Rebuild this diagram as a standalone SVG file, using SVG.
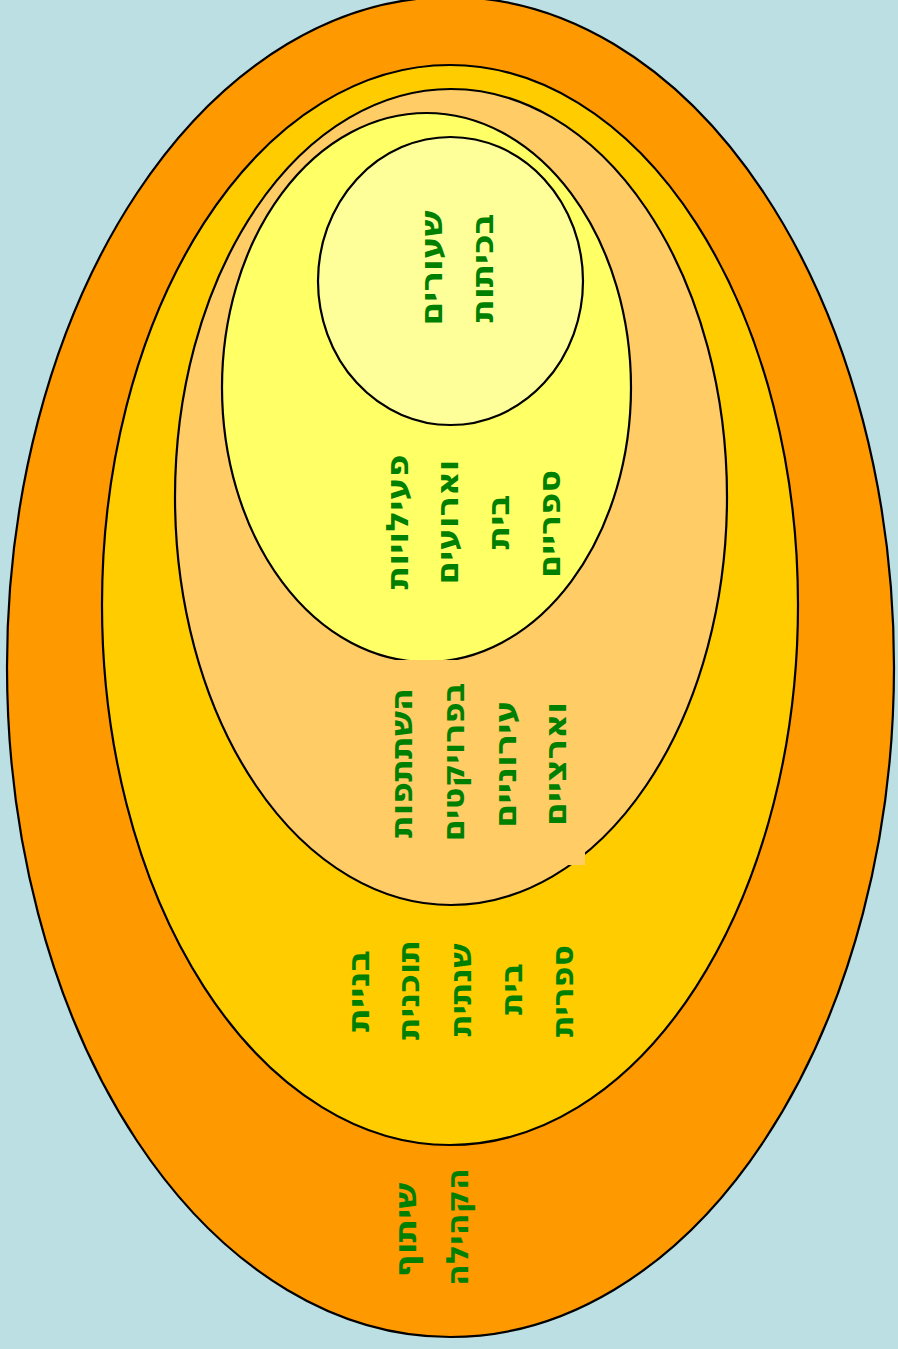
<svg xmlns="http://www.w3.org/2000/svg" width="898" height="1349" viewBox="0 0 898 1349">
<style>
.e{stroke:#000;stroke-width:2.2}
.t{font-family:"DejaVu Sans","Liberation Sans",sans-serif;font-weight:bold;font-size:31px;fill:#008000;text-anchor:middle;dominant-baseline:central}
</style>
<rect x="0" y="0" width="898" height="1349" fill="#BBDFE3"/>
<g id="ring-community">
<ellipse class="e" cx="450.5" cy="667" rx="443.5" ry="670" fill="#FF9900"/>
<text class="t" transform="translate(405,1230) rotate(-90)" textLength="95" lengthAdjust="spacingAndGlyphs">שיתוף</text>
<text class="t" transform="translate(457,1227) rotate(-90)" textLength="118" lengthAdjust="spacingAndGlyphs">הקהילה</text>
</g>
<g id="ring-annual">
<ellipse class="e" cx="450" cy="605" rx="348" ry="540" fill="#FFCC00"/>
<text class="t" transform="translate(358,991) rotate(-90)" textLength="82" lengthAdjust="spacingAndGlyphs">בניית</text>
<text class="t" transform="translate(408,990) rotate(-90)" textLength="100" lengthAdjust="spacingAndGlyphs">תוכנית</text>
<text class="t" transform="translate(460,990) rotate(-90)" textLength="93" lengthAdjust="spacingAndGlyphs">שנתית</text>
<text class="t" transform="translate(511,989) rotate(-90)" textLength="52" lengthAdjust="spacingAndGlyphs">בית</text>
<text class="t" transform="translate(562,991) rotate(-90)" textLength="92" lengthAdjust="spacingAndGlyphs">ספרית</text>
</g>
<g id="ring-projects">
<ellipse class="e" cx="451" cy="497" rx="276" ry="408" fill="#FFCC66"/>
</g>
<g id="ring-events">
<ellipse class="e" cx="426.5" cy="387.5" rx="204.5" ry="274.5" fill="#FFFF66"/>
<text class="t" transform="translate(397,522) rotate(-90)" textLength="135" lengthAdjust="spacingAndGlyphs">פעילויות</text>
<text class="t" transform="translate(447,522) rotate(-90)" textLength="125" lengthAdjust="spacingAndGlyphs">וארועים</text>
<text class="t" transform="translate(498,522) rotate(-90)" textLength="55" lengthAdjust="spacingAndGlyphs">בית</text>
<text class="t" transform="translate(549,524) rotate(-90)" textLength="108" lengthAdjust="spacingAndGlyphs">ספריים</text>
</g>
<g id="ring-projects-text">
<rect x="380" y="660" width="205" height="205" fill="#FFCC66"/>
<text class="t" transform="translate(401,763) rotate(-90)" textLength="150" lengthAdjust="spacingAndGlyphs">השתתפות</text>
<text class="t" transform="translate(453,762) rotate(-90)" textLength="159" lengthAdjust="spacingAndGlyphs">בפרויקטים</text>
<text class="t" transform="translate(505,764) rotate(-90)" textLength="128" lengthAdjust="spacingAndGlyphs">עירוניים</text>
<text class="t" transform="translate(555,764) rotate(-90)" textLength="124" lengthAdjust="spacingAndGlyphs">וארציים</text>
</g>
<g id="circle-lessons">
<ellipse class="e" cx="450.5" cy="281" rx="132.5" ry="144" fill="#FFFF99"/>
<text class="t" transform="translate(431,268) rotate(-90)" textLength="115" lengthAdjust="spacingAndGlyphs">שעורים</text>
<text class="t" transform="translate(482,268) rotate(-90)" textLength="109" lengthAdjust="spacingAndGlyphs">בכיתות</text>
</g>
<g id="connectors"/>
</svg>
